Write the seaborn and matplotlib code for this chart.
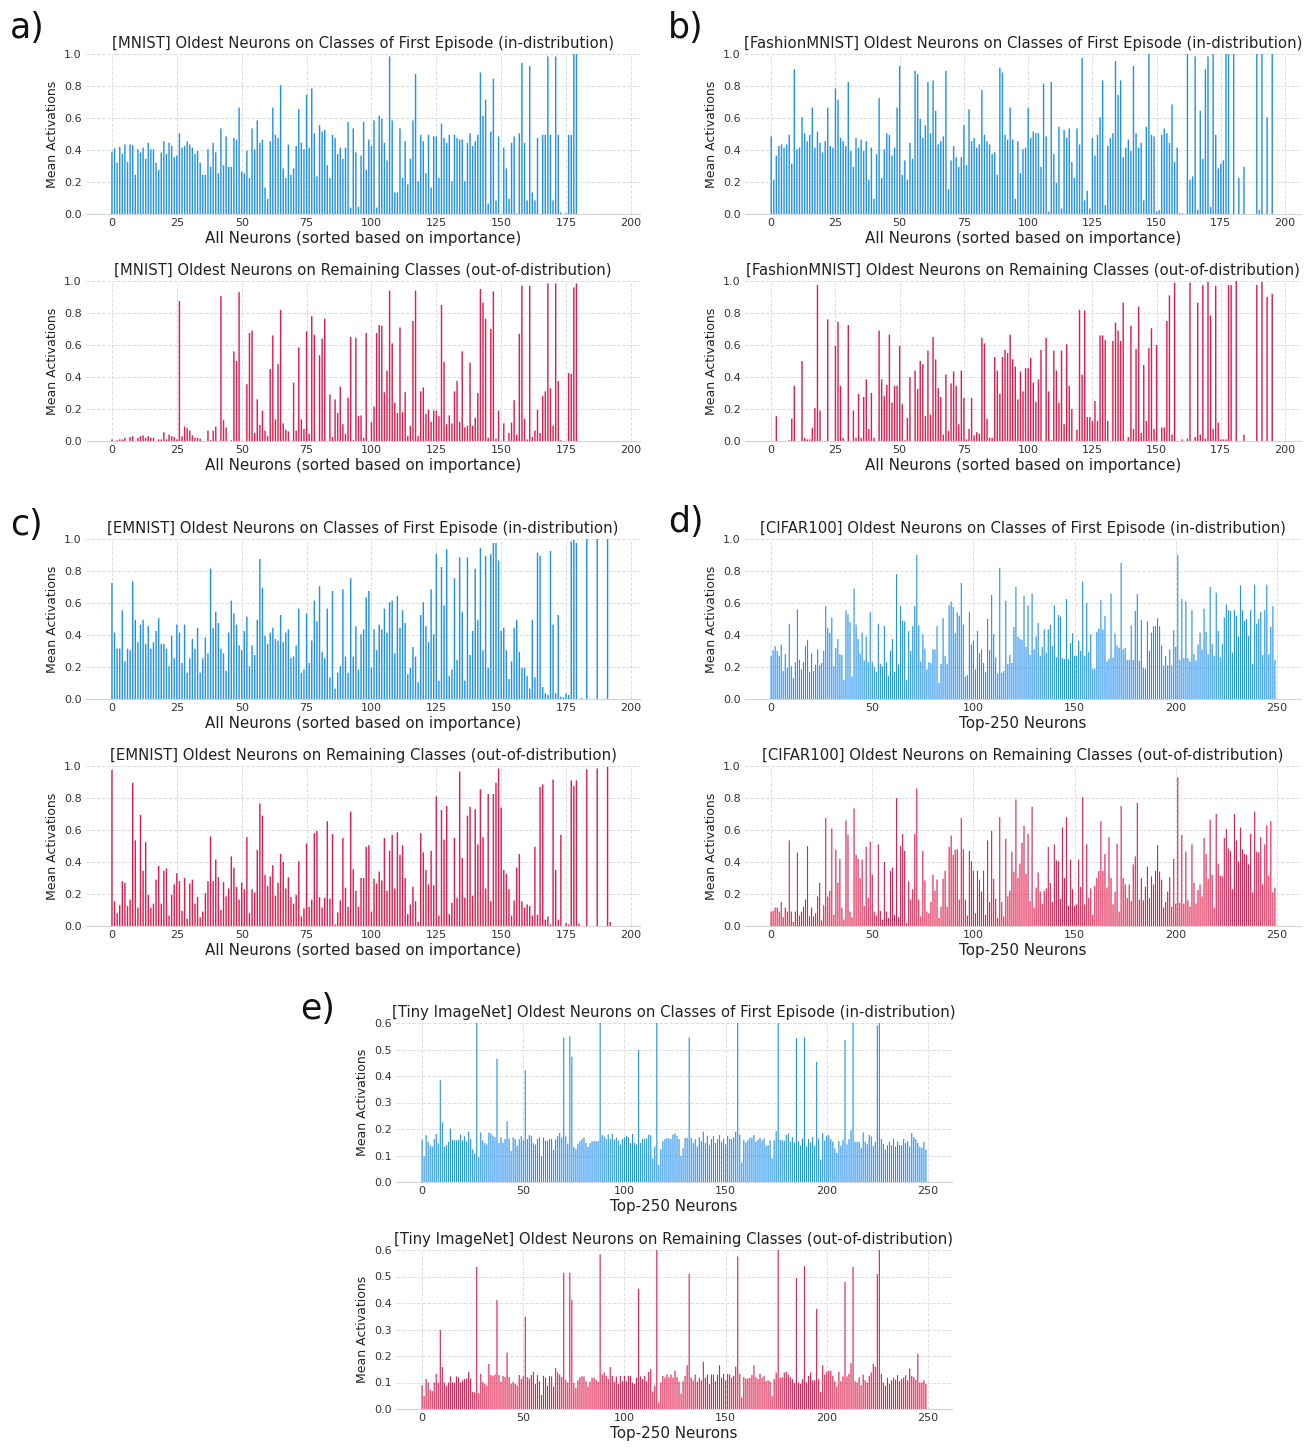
import numpy as np
import matplotlib
matplotlib.use("Agg")
import matplotlib.pyplot as plt
from matplotlib.ticker import FormatStrFormatter
import seaborn as sns

# mean activations, one value per neuron (sorted by importance)
mnist_id = [
    0.39, 0.41, 0.32, 0.42, 0.375, 0.435, 0.325, 0.435, 0.43, 0.245,
    0.405, 0.385, 0.415, 0.345, 0.445, 0.405, 0.405, 0.32, 0.275, 0.385,
    0.455, 0.375, 0.445, 0.425, 0.355, 0.365, 0.505, 0.415, 0.425, 0.455,
    0.435, 0.415, 0.375, 0.395, 0.32, 0.245, 0.245, 0.405, 0.295, 0.445,
    0.385, 0.255, 0.535, 0.305, 0.485, 0.295, 0.295, 0.475, 0.465, 0.665,
    0.265, 0.255, 0.395, 0.225, 0.535, 0.405, 0.585, 0.445, 0.465, 0.165,
    0.095, 0.455, 0.665, 0.495, 0.475, 0.805, 0.285, 0.225, 0.435, 0.245,
    0.285, 0.425, 0.655, 0.445, 0.405, 0.745, 0.415, 0.785, 0.505, 0.235,
    0.555, 0.515, 0.525, 0.305, 0.225, 0.495, 0.475, 0.375, 0.415, 0.345,
    0.415, 0.575, 0.04, 0.535, 0.385, 0.045, 0.365, 0.575, 0.275, 0.465,
    0.425, 0.585, 0.04, 0.615, 0.595, 0.445, 0.335, 0.985, 0.585, 0.135,
    0.135, 0.535, 0.225, 0.455, 0.185, 0.345, 0.585, 0.875, 0.205, 0.495,
    0.455, 0.255, 0.495, 0.165, 0.485, 0.485, 0.225, 0.565, 0.475, 0.445,
    0.495, 0.205, 0.495, 0.475, 0.465, 0.465, 0.205, 0.445, 0.505, 0.425,
    0.455, 0.495, 0.885, 0.615, 0.715, 0.065, 0.515, 0.845, 0.085, 0.485,
    0.0, 0.415, 0.285, 0.095, 0.445, 0.485, 0.005, 0.505, 0.945, 0.445,
    0.085, 0.925, 0.135, 0.085, 0.475, 0.0, 0.495, 0.495, 0.985, 0.495,
    0.085, 0.985, 0.495, 0.01, 0.0, 0.005, 0.495, 0.495, 1.0, 1.0]

mnist_ood = [
    0.01, 0.0, 0.005, 0.01, 0.01, 0.02, 0.0, 0.025, 0.03, 0.0,
    0.02, 0.03, 0.035, 0.02, 0.03, 0.02, 0.02, 0.0, 0.01, 0.01,
    0.055, 0.01, 0.04, 0.03, 0.025, 0.01, 0.875, 0.03, 0.09, 0.08,
    0.065, 0.035, 0.02, 0.02, 0.015, 0.0, 0.0, 0.065, 0.005, 0.065,
    0.09, 0.0, 0.905, 0.13, 0.085, 0.0, 0.005, 0.56, 0.5, 0.93,
    0.0, 0.0, 0.355, 0.675, 0.69, 0.05, 0.26, 0.1, 0.19, 0.065,
    0.03, 0.45, 0.66, 0.135, 0.48, 0.82, 0.11, 0.07, 0.06, 0.0,
    0.365, 0.065, 0.585, 0.135, 0.075, 0.685, 0.045, 0.78, 0.665, 0.0,
    0.535, 0.64, 0.765, 0.0, 0.29, 0.025, 0.26, 0.175, 0.34, 0.105,
    0.045, 0.27, 0.65, 0.005, 0.645, 0.155, 0.16, 0.02, 0.675, 0.0,
    0.12, 0.215, 0.675, 0.725, 0.72, 0.305, 0.44, 0.94, 0.61, 0.24,
    0.175, 0.71, 0.18, 0.305, 0.03, 0.095, 0.75, 0.94, 0.03, 0.31,
    0.335, 0.17, 0.195, 0.12, 0.19, 0.19, 0.155, 0.85, 0.495, 0.105,
    0.16, 0.11, 0.31, 0.375, 0.12, 0.56, 0.085, 0.095, 0.49, 0.095,
    0.145, 0.3, 0.95, 0.865, 0.765, 0.02, 0.7, 0.935, 0.015, 0.19,
    0.0, 0.11, 0.0, 0.05, 0.115, 0.255, 0.04, 0.67, 0.97, 0.14,
    0.01, 0.97, 0.025, 0.065, 0.195, 0.05, 0.28, 0.31, 0.985, 0.33,
    0.095, 0.985, 0.375, 0.005, 0.0, 0.0, 0.425, 0.42, 0.96, 0.985]

fashion_id = [
    0.485, 0.215, 0.365, 0.425, 0.435, 0.415, 0.435, 0.495, 0.315, 0.905,
    0.405, 0.415, 0.605, 0.505, 0.455, 0.495, 0.665, 0.415, 0.515, 0.445,
    0.385, 0.455, 0.665, 0.425, 0.415, 0.785, 0.715, 0.475, 0.455, 0.425,
    0.825, 0.395, 0.295, 0.475, 0.415, 0.465, 0.395, 0.455, 0.215, 0.415,
    0.095, 0.375, 0.725, 0.225, 0.405, 0.505, 0.495, 0.365, 0.415, 0.665,
    0.925, 0.245, 0.335, 0.215, 0.445, 0.345, 0.895, 0.875, 0.595, 0.475,
    0.555, 0.825, 0.505, 0.835, 0.645, 0.435, 0.455, 0.485, 0.895, 0.155,
    0.335, 0.425, 0.355, 0.295, 0.355, 0.555, 0.305, 0.655, 0.455, 0.475,
    0.415, 0.435, 0.775, 0.495, 0.455, 0.435, 0.375, 0.385, 0.245, 0.915,
    0.885, 0.495, 0.465, 0.665, 0.465, 0.095, 0.455, 0.255, 0.405, 0.415,
    0.665, 0.475, 0.515, 0.505, 0.505, 0.295, 0.815, 0.485, 0.015, 0.825,
    0.375, 0.195, 0.545, 0.035, 0.525, 0.475, 0.535, 0.325, 0.225, 0.535,
    0.435, 0.975, 0.085, 0.145, 0.035, 0.475, 0.365, 0.495, 0.605, 0.835,
    0.055, 0.425, 0.475, 0.505, 0.955, 0.745, 0.835, 0.355, 0.415, 0.465,
    0.395, 0.925, 0.505, 0.415, 0.445, 0.085, 0.545, 1.0, 0.495, 0.485,
    0.015, 0.025, 0.495, 0.535, 0.505, 0.445, 0.685, 0.325, 0.415, 0.005,
    0.005, 0.0, 1.0, 0.215, 0.235, 0.985, 0.025, 0.645, 0.345, 0.905,
    0.985, 0.045, 1.0, 0.495, 0.285, 0.315, 0.335, 1.0, 1.0, 0.0,
    1.0, 0.0, 0.225, 0.0, 0.295, 0.0, 0.0, 0.0, 0.0, 1.0,
    0.025, 1.0, 0.0, 0.605, 0.0, 1.0, 0.0]

fashion_ood = [
    0.0, 0.0, 0.155, 0.0, 0.0, 0.0, 0.0, 0.005, 0.14, 0.345,
    0.0, 0.0, 0.5, 0.02, 0.01, 0.01, 0.08, 0.205, 0.975, 0.19,
    0.0, 0.0, 0.76, 0.0, 0.0, 0.595, 0.745, 0.345, 0.02, 0.0,
    0.725, 0.0, 0.19, 0.02, 0.295, 0.02, 0.275, 0.385, 0.075, 0.3,
    0.02, 0.0, 0.69, 0.385, 0.28, 0.35, 0.665, 0.24, 0.345, 0.345,
    0.595, 0.23, 0.005, 0.145, 0.4, 0.0, 0.44, 0.325, 0.5, 0.48,
    0.155, 0.565, 0.165, 0.65, 0.51, 0.33, 0.275, 0.04, 0.415, 0.065,
    0.36, 0.435, 0.345, 0.105, 0.44, 0.27, 0.01, 0.075, 0.27, 0.035,
    0.055, 0.045, 0.645, 0.61, 0.14, 0.02, 0.02, 0.525, 0.44, 0.295,
    0.525, 0.57, 0.55, 0.665, 0.51, 0.465, 0.26, 0.435, 0.31, 0.455,
    0.455, 0.52, 0.365, 0.245, 0.385, 0.57, 0.0, 0.645, 0.31, 0.005,
    0.565, 0.44, 0.24, 0.565, 0.105, 0.605, 0.345, 0.2, 0.0, 0.07,
    0.82, 0.415, 0.815, 0.15, 0.15, 0.125, 0.25, 0.125, 0.66, 0.66,
    0.63, 0.125, 0.0, 0.625, 0.74, 0.69, 0.625, 0.865, 0.0, 0.025,
    0.72, 0.075, 0.575, 0.84, 0.05, 0.475, 0.125, 0.58, 0.705, 0.075,
    0.6, 0.0, 0.085, 0.085, 0.75, 0.91, 0.04, 0.99, 0.0, 0.0,
    0.01, 0.0, 0.015, 0.99, 0.0, 0.025, 0.865, 0.04, 0.975, 0.015,
    0.995, 0.785, 0.075, 0.97, 0.115, 0.01, 0.01, 0.01, 0.975, 0.975,
    0.0, 1.0, 0.0, 0.0, 0.04, 0.0, 0.0, 0.0, 0.0, 0.975,
    0.0, 0.995, 0.0, 0.9, 0.0, 0.92]

emnist_id = [
    0.725, 0.415, 0.315, 0.315, 0.555, 0.235, 0.315, 0.305, 0.735, 0.495,
    0.355, 0.465, 0.495, 0.345, 0.455, 0.315, 0.355, 0.425, 0.505, 0.345,
    0.345, 0.315, 0.205, 0.395, 0.255, 0.465, 0.415, 0.225, 0.465, 0.165,
    0.255, 0.375, 0.315, 0.445, 0.165, 0.255, 0.385, 0.285, 0.815, 0.445,
    0.545, 0.475, 0.315, 0.285, 0.175, 0.415, 0.615, 0.535, 0.465, 0.335,
    0.305, 0.425, 0.515, 0.205, 0.335, 0.275, 0.495, 0.875, 0.695, 0.395,
    0.345, 0.415, 0.445, 0.375, 0.365, 0.525, 0.355, 0.415, 0.435, 0.255,
    0.265, 0.335, 0.565, 0.165, 0.185, 0.535, 0.225, 0.365, 0.615, 0.485,
    0.705, 0.295, 0.255, 0.565, 0.135, 0.675, 0.065, 0.165, 0.205, 0.685,
    0.265, 0.165, 0.755, 0.265, 0.455, 0.185, 0.405, 0.435, 0.635, 0.675,
    0.195, 0.435, 0.305, 0.465, 0.435, 0.565, 0.415, 0.605, 0.615, 0.285,
    0.645, 0.445, 0.555, 0.475, 0.155, 0.195, 0.325, 0.265, 0.105, 0.525,
    0.605, 0.455, 0.355, 0.685, 0.405, 0.905, 0.115, 0.825, 0.585, 0.935,
    0.145, 0.185, 0.755, 0.245, 0.885, 0.545, 0.115, 0.885, 0.275, 0.425,
    0.815, 0.495, 0.945, 0.305, 0.895, 0.195, 0.905, 0.975, 0.975, 0.865,
    0.425, 0.445, 0.305, 0.125, 0.235, 0.445, 0.495, 0.295, 0.195, 0.195,
    0.145, 0.065, 0.495, 0.135, 0.915, 0.895, 0.075, 0.035, 0.025, 0.925,
    0.465, 0.035, 0.525, 0.015, 0.01, 0.035, 0.025, 0.985, 0.995, 0.975,
    0.0, 0.005, 0.0, 1.0, 0.0, 0.0, 0.0, 1.0, 0.0, 0.0,
    0.0, 1.0]

emnist_ood = [
    0.975, 0.155, 0.08, 0.13, 0.28, 0.27, 0.125, 0.165, 0.895, 0.535,
    0.115, 0.695, 0.345, 0.525, 0.195, 0.115, 0.14, 0.29, 0.375, 0.14,
    0.345, 0.36, 0.065, 0.195, 0.26, 0.33, 0.28, 0.095, 0.3, 0.045,
    0.265, 0.29, 0.14, 0.18, 0.055, 0.09, 0.205, 0.28, 0.56, 0.28,
    0.415, 0.305, 0.1, 0.275, 0.185, 0.235, 0.435, 0.365, 0.245, 0.165,
    0.27, 0.23, 0.555, 0.08, 0.23, 0.21, 0.475, 0.765, 0.69, 0.32,
    0.25, 0.31, 0.38, 0.19, 0.27, 0.45, 0.4, 0.235, 0.305, 0.18,
    0.14, 0.195, 0.405, 0.06, 0.11, 0.515, 0.12, 0.165, 0.58, 0.595,
    0.18, 0.115, 0.175, 0.655, 0.17, 0.575, 0.01, 0.085, 0.16, 0.55,
    0.24, 0.12, 0.715, 0.355, 0.22, 0.12, 0.3, 0.3, 0.495, 0.505,
    0.09, 0.295, 0.265, 0.34, 0.285, 0.55, 0.22, 0.47, 0.57, 0.235,
    0.585, 0.445, 0.505, 0.3, 0.075, 0.135, 0.245, 0.155, 0.025, 0.58,
    0.46, 0.35, 0.26, 0.47, 0.255, 0.81, 0.065, 0.725, 0.54, 0.75,
    0.075, 0.145, 0.55, 0.175, 0.965, 0.425, 0.175, 0.69, 0.745, 0.19,
    0.73, 0.51, 0.855, 0.555, 0.235, 0.825, 0.155, 0.825, 0.895, 0.985,
    0.74, 0.35, 0.325, 0.23, 0.065, 0.16, 0.365, 0.45, 0.155, 0.115,
    0.135, 0.125, 0.065, 0.495, 0.07, 0.87, 0.885, 0.04, 0.06, 0.01,
    0.915, 0.35, 0.04, 0.57, 0.0, 0.02, 0.01, 0.91, 0.875, 0.91,
    0.015, 0.0, 0.0, 0.98, 0.0, 0.0, 0.0, 0.985, 0.0, 0.0,
    0.0, 0.995, 0.025]

cifar_id = [
    0.27, 0.305, 0.33, 0.3, 0.27, 0.34, 0.175, 0.28, 0.195, 0.47,
    0.205, 0.13, 0.23, 0.56, 0.245, 0.185, 0.23, 0.33, 0.37, 0.17,
    0.285, 0.175, 0.215, 0.31, 0.21, 0.225, 0.3, 0.58, 0.445, 0.415,
    0.51, 0.205, 0.32, 0.375, 0.28, 0.275, 0.12, 0.555, 0.53, 0.48,
    0.14, 0.69, 0.465, 0.375, 0.285, 0.415, 0.24, 0.39, 0.23, 0.545,
    0.23, 0.2, 0.17, 0.47, 0.22, 0.205, 0.455, 0.23, 0.145, 0.3,
    0.375, 0.17, 0.78, 0.215, 0.58, 0.49, 0.485, 0.12, 0.425, 0.3,
    0.455, 0.58, 0.9, 0.46, 0.235, 0.405, 0.315, 0.185, 0.23, 0.225,
    0.31, 0.31, 0.455, 0.1, 0.22, 0.505, 0.27, 0.22, 0.585, 0.61,
    0.575, 0.41, 0.54, 0.52, 0.725, 0.465, 0.14, 0.15, 0.545, 0.34,
    0.365, 0.185, 0.425, 0.285, 0.31, 0.225, 0.17, 0.5, 0.305, 0.65,
    0.405, 0.26, 0.16, 0.82, 0.165, 0.175, 0.615, 0.22, 0.275, 0.225,
    0.45, 0.7, 0.39, 0.375, 0.37, 0.645, 0.325, 0.585, 0.275, 0.66,
    0.31, 0.39, 0.475, 0.27, 0.325, 0.435, 0.29, 0.435, 0.465, 0.33,
    0.585, 0.26, 0.525, 0.515, 0.255, 0.25, 0.625, 0.25, 0.35, 0.41,
    0.27, 0.27, 0.365, 0.3, 0.735, 0.27, 0.6, 0.295, 0.405, 0.19,
    0.19, 0.42, 0.44, 0.62, 0.435, 0.52, 0.235, 0.25, 0.66, 0.26,
    0.41, 0.335, 0.32, 0.85, 0.31, 0.32, 0.245, 0.245, 0.46, 0.245,
    0.55, 0.655, 0.24, 0.495, 0.195, 0.19, 0.485, 0.3, 0.415, 0.455,
    0.455, 0.505, 0.455, 0.335, 0.21, 0.27, 0.21, 0.31, 0.21, 0.43,
    0.325, 0.9, 0.245, 0.625, 0.255, 0.61, 0.255, 0.235, 0.555, 0.28,
    0.24, 0.34, 0.415, 0.31, 0.565, 0.42, 0.28, 0.7, 0.345, 0.27,
    0.665, 0.425, 0.26, 0.345, 0.51, 0.59, 0.555, 0.55, 0.29, 0.555,
    0.52, 0.39, 0.71, 0.555, 0.49, 0.5, 0.395, 0.555, 0.22, 0.715,
    0.47, 0.5, 0.545, 0.275, 0.555, 0.715, 0.28, 0.45, 0.58, 0.245]

cifar_ood = [
    0.09, 0.095, 0.115, 0.115, 0.09, 0.15, 0.055, 0.115, 0.09, 0.535,
    0.09, 0.025, 0.09, 0.46, 0.065, 0.09, 0.12, 0.165, 0.5, 0.06,
    0.115, 0.06, 0.08, 0.185, 0.27, 0.035, 0.13, 0.675, 0.185, 0.22,
    0.61, 0.07, 0.475, 0.27, 0.42, 0.115, 0.04, 0.66, 0.57, 0.09,
    0.055, 0.735, 0.445, 0.42, 0.3, 0.415, 0.125, 0.495, 0.175, 0.525,
    0.32, 0.09, 0.065, 0.51, 0.095, 0.04, 0.4, 0.09, 0.05, 0.345,
    0.365, 0.07, 0.8, 0.055, 0.5, 0.575, 0.47, 0.02, 0.28, 0.165,
    0.23, 0.575, 0.86, 0.165, 0.06, 0.47, 0.285, 0.09, 0.08, 0.15,
    0.32, 0.22, 0.29, 0.05, 0.12, 0.295, 0.345, 0.12, 0.495, 0.565,
    0.445, 0.475, 0.48, 0.165, 0.675, 0.48, 0.165, 0.065, 0.47, 0.405,
    0.345, 0.08, 0.345, 0.29, 0.215, 0.345, 0.07, 0.535, 0.15, 0.595,
    0.295, 0.17, 0.05, 0.68, 0.15, 0.06, 0.545, 0.185, 0.22, 0.465,
    0.34, 0.79, 0.3, 0.39, 0.52, 0.625, 0.325, 0.575, 0.155, 0.745,
    0.115, 0.24, 0.335, 0.215, 0.14, 0.22, 0.235, 0.495, 0.27, 0.15,
    0.51, 0.41, 0.405, 0.17, 0.615, 0.3, 0.68, 0.125, 0.415, 0.23,
    0.125, 0.135, 0.415, 0.245, 0.805, 0.135, 0.51, 0.175, 0.235, 0.07,
    0.25, 0.3, 0.345, 0.655, 0.345, 0.45, 0.24, 0.555, 0.3, 0.135,
    0.215, 0.515, 0.09, 0.75, 0.3, 0.26, 0.175, 0.26, 0.155, 0.385,
    0.435, 0.77, 0.165, 0.3, 0.16, 0.245, 0.37, 0.175, 0.31, 0.26,
    0.345, 0.505, 0.34, 0.29, 0.115, 0.15, 0.215, 0.305, 0.12, 0.42,
    0.14, 0.93, 0.145, 0.57, 0.14, 0.465, 0.16, 0.12, 0.51, 0.27,
    0.14, 0.225, 0.26, 0.185, 0.55, 0.45, 0.295, 0.665, 0.32, 0.115,
    0.7, 0.39, 0.315, 0.31, 0.55, 0.605, 0.485, 0.47, 0.23, 0.7,
    0.535, 0.405, 0.615, 0.48, 0.45, 0.445, 0.385, 0.575, 0.21, 0.715,
    0.465, 0.46, 0.555, 0.26, 0.51, 0.63, 0.315, 0.655, 0.21, 0.24]

tiny_id = [
    0.16, 0.097, 0.177, 0.152, 0.137, 0.134, 0.162, 0.181, 0.146, 0.384,
    0.225, 0.133, 0.139, 0.152, 0.202, 0.159, 0.157, 0.157, 0.159, 0.179,
    0.157, 0.172, 0.154, 0.19, 0.162, 0.123, 0.107, 0.6, 0.094, 0.187,
    0.157, 0.147, 0.142, 0.186, 0.183, 0.174, 0.169, 0.465, 0.147, 0.169,
    0.148, 0.162, 0.23, 0.164, 0.117, 0.169, 0.162, 0.137, 0.161, 0.173,
    0.157, 0.422, 0.162, 0.177, 0.174, 0.146, 0.142, 0.162, 0.169, 0.097,
    0.168, 0.156, 0.156, 0.162, 0.162, 0.122, 0.161, 0.173, 0.185, 0.167,
    0.545, 0.172, 0.144, 0.55, 0.473, 0.132, 0.124, 0.144, 0.154, 0.162,
    0.169, 0.147, 0.132, 0.147, 0.154, 0.154, 0.154, 0.154, 0.6, 0.177,
    0.172, 0.162, 0.179, 0.162, 0.182, 0.159, 0.168, 0.157, 0.142, 0.162,
    0.169, 0.174, 0.169, 0.147, 0.181, 0.147, 0.142, 0.498, 0.147, 0.162,
    0.164, 0.164, 0.179, 0.177, 0.089, 0.134, 0.6, 0.064, 0.124, 0.154,
    0.162, 0.166, 0.164, 0.162, 0.179, 0.183, 0.174, 0.162, 0.099, 0.127,
    0.166, 0.167, 0.545, 0.166, 0.147, 0.162, 0.134, 0.169, 0.154, 0.19,
    0.147, 0.174, 0.139, 0.162, 0.174, 0.147, 0.162, 0.177, 0.152, 0.163,
    0.142, 0.174, 0.162, 0.162, 0.169, 0.19, 0.6, 0.179, 0.074, 0.158,
    0.149, 0.159, 0.167, 0.167, 0.177, 0.152, 0.159, 0.167, 0.157, 0.164,
    0.137, 0.139, 0.157, 0.089, 0.157, 0.192, 0.6, 0.159, 0.157, 0.157,
    0.177, 0.183, 0.152, 0.169, 0.149, 0.543, 0.154, 0.137, 0.164, 0.546,
    0.134, 0.162, 0.149, 0.169, 0.137, 0.453, 0.164, 0.084, 0.185, 0.157,
    0.174, 0.177, 0.162, 0.152, 0.127, 0.109, 0.154, 0.137, 0.157, 0.535,
    0.142, 0.162, 0.195, 0.6, 0.152, 0.152, 0.152, 0.129, 0.187, 0.152,
    0.142, 0.177, 0.172, 0.137, 0.152, 0.59, 0.6, 0.162, 0.144, 0.122,
    0.139, 0.152, 0.139, 0.162, 0.134, 0.152, 0.139, 0.139, 0.162, 0.147,
    0.154, 0.134, 0.185, 0.169, 0.162, 0.147, 0.132, 0.129, 0.152, 0.122]

tiny_ood = [
    0.09, 0.05, 0.113, 0.1, 0.073, 0.068, 0.1, 0.133, 0.1, 0.298,
    0.158, 0.1, 0.088, 0.1, 0.123, 0.1, 0.1, 0.123, 0.119, 0.1,
    0.108, 0.113, 0.115, 0.14, 0.115, 0.065, 0.063, 0.536, 0.06, 0.133,
    0.103, 0.095, 0.088, 0.17, 0.128, 0.125, 0.13, 0.411, 0.128, 0.103,
    0.125, 0.12, 0.213, 0.12, 0.095, 0.103, 0.095, 0.088, 0.128, 0.113,
    0.123, 0.348, 0.12, 0.115, 0.128, 0.14, 0.095, 0.128, 0.105, 0.053,
    0.125, 0.118, 0.088, 0.125, 0.123, 0.085, 0.155, 0.138, 0.13, 0.12,
    0.514, 0.11, 0.1, 0.514, 0.411, 0.098, 0.08, 0.108, 0.12, 0.123,
    0.123, 0.105, 0.085, 0.103, 0.118, 0.118, 0.11, 0.103, 0.584, 0.13,
    0.138, 0.125, 0.113, 0.158, 0.125, 0.103, 0.123, 0.095, 0.125, 0.105,
    0.125, 0.105, 0.125, 0.125, 0.1, 0.095, 0.118, 0.454, 0.123, 0.113,
    0.125, 0.105, 0.14, 0.15, 0.065, 0.088, 0.6, 0.025, 0.1, 0.125,
    0.118, 0.13, 0.12, 0.13, 0.118, 0.145, 0.12, 0.103, 0.058, 0.105,
    0.125, 0.165, 0.51, 0.118, 0.108, 0.13, 0.103, 0.118, 0.108, 0.178,
    0.118, 0.13, 0.095, 0.13, 0.13, 0.105, 0.13, 0.165, 0.118, 0.133,
    0.108, 0.133, 0.13, 0.118, 0.125, 0.16, 0.576, 0.133, 0.043, 0.12,
    0.115, 0.115, 0.118, 0.128, 0.165, 0.12, 0.113, 0.133, 0.118, 0.125,
    0.105, 0.108, 0.103, 0.048, 0.113, 0.138, 0.6, 0.118, 0.12, 0.138,
    0.14, 0.13, 0.12, 0.113, 0.098, 0.494, 0.1, 0.095, 0.113, 0.539,
    0.1, 0.125, 0.138, 0.108, 0.108, 0.378, 0.113, 0.065, 0.165, 0.13,
    0.14, 0.145, 0.145, 0.125, 0.105, 0.085, 0.14, 0.105, 0.123, 0.479,
    0.123, 0.133, 0.173, 0.536, 0.105, 0.1, 0.12, 0.09, 0.13, 0.108,
    0.1, 0.125, 0.138, 0.17, 0.16, 0.509, 0.6, 0.133, 0.1, 0.088,
    0.118, 0.095, 0.108, 0.118, 0.11, 0.128, 0.105, 0.113, 0.118, 0.128,
    0.108, 0.153, 0.125, 0.12, 0.11, 0.208, 0.1, 0.1, 0.108, 0.095]

ID_TITLE = "[{}] Oldest Neurons on Classes of First Episode (in-distribution)"
OOD_TITLE = "[{}] Oldest Neurons on Remaining Classes (out-of-distribution)"
ALL_LABEL = "All Neurons (sorted based on importance)"
TOP_LABEL = "Top-250 Neurons"

BLUE = "#2191f0"
RED = "#e21c4c"

W, H = 1315, 1447

sns.set_style("whitegrid", {"grid.linestyle": "--", "grid.color": "#dedede",
                            "axes.edgecolor": "#d5d5d5"})

fig = plt.figure(figsize=(W / 100, H / 100), dpi=100)


def panel(left, top, width, height, vals, color, title, xlabel, xlim, xstep, ymax, ystep):
    ax = fig.add_axes([left / W, 1 - (top + height) / H, width / W, height / H])
    idx = np.arange(len(vals))
    sns.barplot(x=idx, y=vals, native_scale=True, color=color, width=0.55,
                saturation=1, errorbar=None, ax=ax)
    # thin bars: force a flat fill with no outline so none of them render grey
    for p in ax.patches:
        p.set_facecolor(color)
        p.set_edgecolor("none")
        p.set_linewidth(0)
        p.set_snap(False)
    ax.set_xlim(*xlim)
    ax.set_ylim(0, ymax)
    ax.set_xticks(np.arange(0, xlim[1], xstep))
    ax.set_yticks(np.arange(0, ymax + 1e-9, ystep))
    ax.yaxis.set_major_formatter(FormatStrFormatter("%.1f"))
    ax.grid(True, linewidth=0.7)
    ax.tick_params(labelsize=8, colors="#333333", pad=3, length=0)
    ax.set_title(title, fontsize=10.75, pad=4, color="#222222")
    ax.set_xlabel(xlabel, fontsize=10.9, labelpad=2, color="#222222")
    ax.set_ylabel("Mean Activations", fontsize=9, labelpad=4, color="#222222")
    sns.despine(ax=ax, left=True)
    return ax


# a) MNIST
panel(86, 54, 554, 160, mnist_id, BLUE, ID_TITLE.format("MNIST"), ALL_LABEL, (-10, 203.5), 25, 1.0, 0.2)
panel(86, 281, 554, 160, mnist_ood, RED, OOD_TITLE.format("MNIST"), ALL_LABEL, (-10, 203.5), 25, 1.0, 0.2)
# b) FashionMNIST
panel(745, 54, 556, 160, fashion_id, BLUE, ID_TITLE.format("FashionMNIST"), ALL_LABEL, (-10.2, 206.2), 25, 1.0, 0.2)
panel(745, 281, 556, 160, fashion_ood, RED, OOD_TITLE.format("FashionMNIST"), ALL_LABEL, (-10.2, 206.2), 25, 1.0, 0.2)
# c) EMNIST
panel(86, 539, 554, 160, emnist_id, BLUE, ID_TITLE.format("EMNIST"), ALL_LABEL, (-10, 203.5), 25, 1.0, 0.2)
panel(86, 766, 554, 160, emnist_ood, RED, OOD_TITLE.format("EMNIST"), ALL_LABEL, (-10, 203.5), 25, 1.0, 0.2)
# d) CIFAR100
panel(745, 539, 556, 160, cifar_id, BLUE, ID_TITLE.format("CIFAR100"), TOP_LABEL, (-12.9, 261.9), 50, 1.0, 0.2)
panel(745, 766, 556, 160, cifar_ood, RED, OOD_TITLE.format("CIFAR100"), TOP_LABEL, (-12.9, 261.9), 50, 1.0, 0.2)
# e) Tiny ImageNet
panel(396, 1023, 556, 159, tiny_id, BLUE, ID_TITLE.format("Tiny ImageNet"), TOP_LABEL, (-12.9, 261.9), 50, 0.6, 0.1)
panel(396, 1250, 556, 159, tiny_ood, RED, OOD_TITLE.format("Tiny ImageNet"), TOP_LABEL, (-12.9, 261.9), 50, 0.6, 0.1)

for letter, x, y in [("a)", 10, 28), ("b)", 668, 28), ("c)", 10, 525), ("d)", 668, 522), ("e)", 300, 1009)]:
    fig.text(x / W, 1 - y / H, letter, fontsize=25, va="center", ha="left", color="#111111")

fig.savefig("out.png", dpi=100, facecolor="white")
